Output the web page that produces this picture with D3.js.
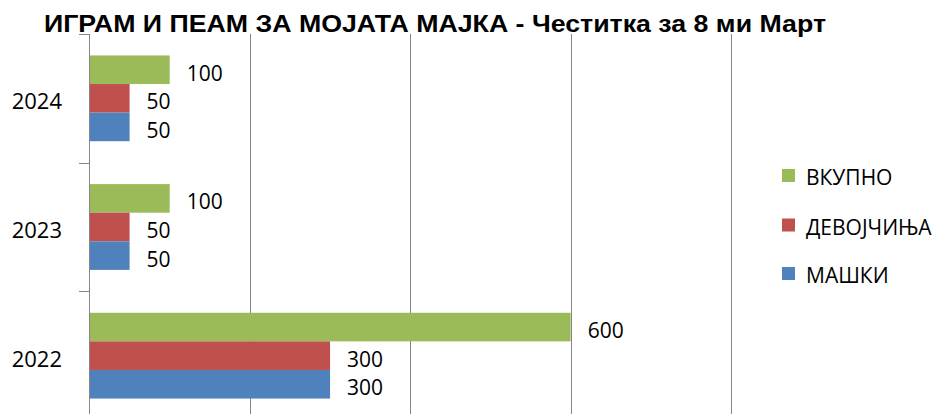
<!DOCTYPE html>
<html><head><meta charset="utf-8">
<script src="https://cdn.jsdelivr.net/npm/d3@7/dist/d3.min.js"></script>
<style>html,body{margin:0;padding:0;background:#fff;}svg{display:block;}</style>
</head><body>
<script>
const title = "ИГРАМ И ПЕАМ ЗА МОЈАТА МАЈКА - Честитка за 8 ми Март";
const categories = ["2024", "2023", "2022"];
const seriesNames = ["ВКУПНО", "ДЕВОЈЧИЊА", "МАШКИ"];
const seriesColors = ["#9BBB59", "#C0504D", "#4F81BD"];
const vkupno = [100, 100, 600];
const devojcinja = [50, 50, 300];
const maski = [50, 50, 300];
const xTicks = [0, 200, 400, 600, 800];

const seriesValues = [vkupno, devojcinja, maski];
const W = 944, H = 414;
const svg = d3.select("body").append("svg").attr("width", W).attr("height", H);

const x = d3.scaleLinear().domain([0, 800]).range([89.5, 731]);
const y = d3.scaleBand().domain(categories).range([34, 420]).paddingInner(0).paddingOuter(0);
const inner = d3.scaleBand().domain(seriesNames).range([0, y.bandwidth()]).paddingInner(0).paddingOuter(0.75);

// gridlines
svg.append("g").selectAll("line").data(xTicks.slice(1)).join("line")
  .attr("x1", d => Math.round(x(d)) + 0.5).attr("x2", d => Math.round(x(d)) + 0.5)
  .attr("y1", 34).attr("y2", 420)
  .attr("stroke", "#868686").attr("stroke-width", 1);

// bars
const data = [];
categories.forEach((c, i) => seriesNames.forEach((s, j) => data.push({c, s, j, v: seriesValues[j][i]})));
svg.append("g").selectAll("rect").data(data).join("rect")
  .attr("x", x(0))
  .attr("y", d => y(d.c) + inner(d.s))
  .attr("width", d => x(d.v) - x(0))
  .attr("height", inner.bandwidth())
  .attr("fill", d => seriesColors[d.j]);

// value labels
svg.append("g").selectAll("text").data(data).join("text")
  .attr("x", d => x(d.v) + 17)
  .attr("y", d => y(d.c) + inner(d.s) + inner.bandwidth() / 2 + 3)
  .attr("dominant-baseline", "central")
  .attr("font-family", "'Open Sans', sans-serif")
  .attr("font-size", 21)
  .attr("fill", "#000")
  .text(d => d.v);

// y axis
const yAxis = svg.append("g");
yAxis.append("line").attr("x1", 89.5).attr("x2", 89.5).attr("y1", 34).attr("y2", 420)
  .attr("stroke", "#868686").attr("stroke-width", 1);
const bounds = categories.map(c => y(c)).concat([y(categories[categories.length - 1]) + y.bandwidth()]);
yAxis.selectAll("line.tick").data(bounds).join("line").attr("class", "tick")
  .attr("x1", 79).attr("x2", 89.5)
  .attr("y1", d => Math.round(d) + 0.5).attr("y2", d => Math.round(d) + 0.5)
  .attr("stroke", "#868686").attr("stroke-width", 1);
yAxis.selectAll("text").data(categories).join("text")
  .attr("x", 62).attr("y", d => y(d) + y.bandwidth() / 2 + 2)
  .attr("text-anchor", "end").attr("dominant-baseline", "central")
  .attr("font-family", "'Open Sans', sans-serif").attr("font-size", 22)
  .attr("fill", "#000").text(d => d);

// title
svg.append("text").attr("x", 44).attr("y", 32)
  .attr("font-family", "'Liberation Sans', Arial, sans-serif").attr("font-weight", "bold")
  .attr("font-size", 23).attr("textLength", 782).attr("lengthAdjust", "spacingAndGlyphs")
  .attr("fill", "#000").text(title);

// legend
const legendY = [175.5, 225, 273.5];
const lg = svg.append("g");
seriesNames.forEach((s, j) => {
  lg.append("rect").attr("x", 782).attr("y", legendY[j] - 6.5).attr("width", 13).attr("height", 13)
    .attr("fill", seriesColors[j]);
  lg.append("text").attr("x", 806).attr("y", legendY[j] + 1.5)
    .attr("dominant-baseline", "central")
    .attr("font-family", "'Open Sans', sans-serif").attr("font-size", 21)
    .attr("fill", "#000").text(s);
});
</script>
</body></html>
